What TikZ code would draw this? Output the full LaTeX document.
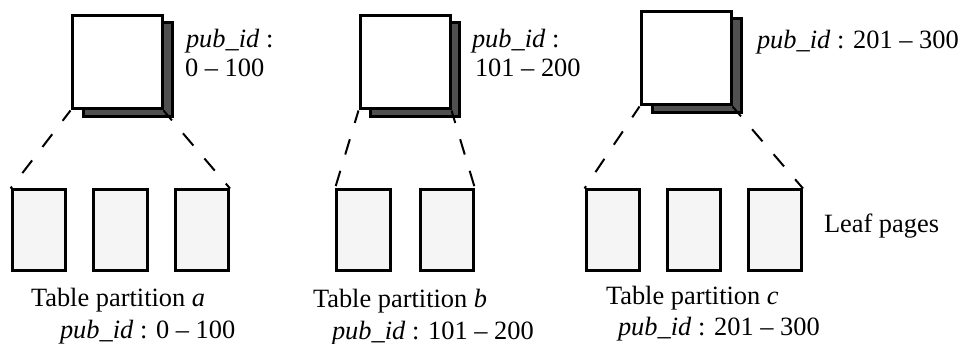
\documentclass[tikz,border=0pt]{standalone}
\usepackage{fontspec}
\setmainfont{Liberation Serif}
\definecolor{backgray}{HTML}{505050}
\definecolor{leafgray}{HTML}{F5F5F5}
\tikzset{
  pagebox/.style={draw=black,line width=3pt,rectangle,anchor=north west,inner sep=0pt,outer sep=1.5pt,xshift=-1.5pt,yshift=1.5pt},
  frontbox/.style={pagebox,fill=white,minimum width=90pt,minimum height=93pt},
  backbox/.style={pagebox,fill=backgray,minimum width=89pt,minimum height=93.5pt},
  leafbox/.style={pagebox,fill=leafgray,minimum width=53.5pt,minimum height=81pt},
  link/.style={draw=black,line width=2pt,dash pattern=on 16pt off 17pt,dash phase=3pt},
  lab/.style={anchor=base west,inner sep=0pt,outer sep=0pt,font=\fontsize{26.4}{30}\selectfont}
}
\newcommand{\pid}{\textit{pub\_id} :}
\begin{document}
\begin{tikzpicture}[x=1pt,y=-1pt]
\useasboundingbox (0,0) rectangle (963,344);
% group a
\node[backbox] (ba) at (83,23) {};
\node[frontbox] (fa) at (72,16) {};
\node[leafbox] (la1) at (12,190) {};
\node[leafbox] (la2) at (93.5,190) {};
\node[leafbox] (la3) at (175,190) {};
\draw[link] (fa.south west) -- (la1.north west);
\draw[link] (fa.south east) -- (la3.north east);
% group b
\node[backbox] (bb) at (370,23) {};
\node[frontbox] (fb) at (360,16) {};
\node[leafbox] (lb1) at (336.5,190) {};
\node[leafbox] (lb2) at (420,190) {};
\draw[link] (fb.south west) -- (lb1.north west);
\draw[link] (fb.south east) -- (lb2.north east);
% group c
\node[backbox] (bc) at (652,19) {};
\node[frontbox] (fc) at (641,12) {};
\node[leafbox] (lc1) at (586,190) {};
\node[leafbox] (lc2) at (667,190) {};
\node[leafbox] (lc3) at (748,190) {};
\draw[link] (fc.south west) -- (lc1.north west);
\draw[link] (fc.south east) -- (lc3.north east);
% labels
\node[lab] (ta1) at (186,48) {\pid};
\node[lab] (ta2) at (185,77) {0 – 100};
\node[lab] (tb1) at (472,48) {\pid};
\node[lab] (tb2) at (475,77) {101 – 200};
\node[lab] (tc1) at (757,49) {\pid{} 201 – 300};
\node[lab] (leaf) at (824,233) {Leaf pages};
\node[lab] (pa1) at (31,307) {Table partition \textit{a}};
\node[lab] (pa2) at (60,338) {\pid{} 0 – 100};
\node[lab] (pb1) at (313,308) {Table partition \textit{b}};
\node[lab] (pb2) at (332,339) {\pid{} 101 – 200};
\node[lab] (pc1) at (606,305) {Table partition \textit{c}};
\node[lab] (pc2) at (618,335) {\pid{} 201 – 300};
\end{tikzpicture}
\end{document}
